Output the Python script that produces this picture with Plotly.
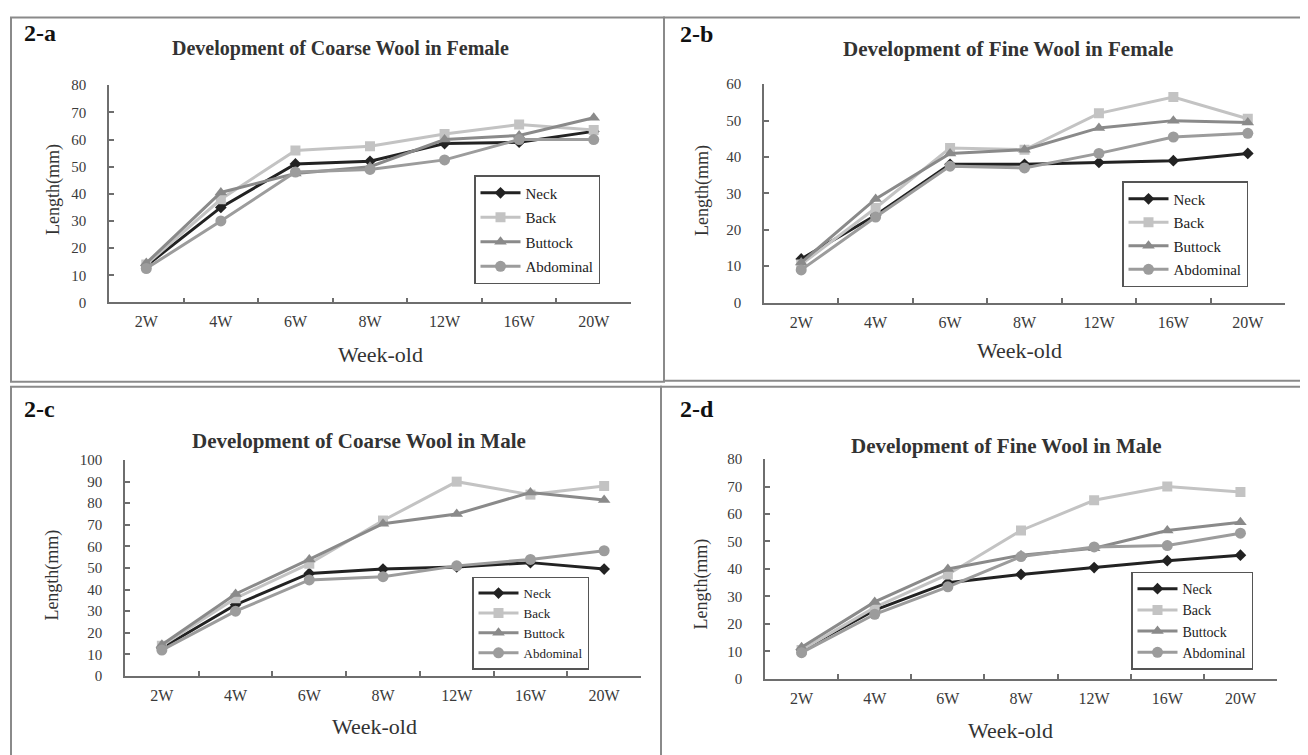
import plotly.graph_objects as go

weeks = ["2W", "4W", "6W", "8W", "12W", "16W", "20W"]
series_names = ["Neck", "Back", "Buttock", "Abdominal"]

# 2-a Coarse wool, female
a_neck = [13.5, 35, 51, 52, 58.5, 59, 63]
a_back = [14, 38, 56, 57.5, 62, 65.5, 63.5]
a_buttock = [14.5, 40.5, 47.5, 50, 60, 61.5, 68]
a_abdominal = [12.5, 30, 48, 49, 52.5, 60, 60]

# 2-b Fine wool, female
b_neck = [12, 24, 38, 38, 38.5, 39, 41]
b_back = [10.5, 26, 42.5, 42, 52, 56.5, 50.5]
b_buttock = [11, 28.5, 41, 42, 48, 50, 49.5]
b_abdominal = [9, 23.5, 37.5, 37, 41, 45.5, 46.5]

# 2-c Coarse wool, male
c_neck = [13, 33, 47.5, 49.5, 50.5, 52.5, 49.5]
c_back = [14, 36, 52, 72, 90, 84, 88]
c_buttock = [14.5, 38, 54, 70.5, 75, 85, 81.5]
c_abdominal = [12, 30, 44.5, 46, 51, 54, 58]

# 2-d Fine wool, male
d_neck = [10.5, 25, 35, 38, 40.5, 43, 45]
d_back = [10.5, 26, 38, 54, 65, 70, 68]
d_buttock = [11.5, 28, 40, 45, 47.5, 54, 57]
d_abdominal = [9.5, 23.5, 33.5, 44.5, 48, 48.5, 53]

panel_labels = ["2-a", "2-b", "2-c", "2-d"]
panel_titles = ["Development of Coarse Wool in Female", "Development of Fine Wool in Female",
                "Development of Coarse Wool in Male", "Development of Fine Wool in Male"]
y_max = [80, 60, 100, 80]

W, H = 1308, 755
SERIF = "Liberation Serif, Times New Roman, serif"

styles = [
    dict(color="#222222", symbol="diamond", size=9),
    dict(color="#c3c3c3", symbol="square", size=10),
    dict(color="#8a8a8a", symbol="triangle-up", size=11),
    dict(color="#9c9c9c", symbol="circle", size=11),
]

# target pixel positions in the photographed page
boxes = [(109, 631, 84, 301.5), (764, 1285, 83, 301.7), (125, 641, 459.3, 675.5), (765, 1277, 458.3, 678.3)]
legend_pos = [(474, 174, 2, 15), (1122, 180, 1, 15), (472, 576, 0, 13), (1131, 571, 0, 14)]
label_pos = [(22, 32), (678, 33), (22, 408), (678, 408)]
title_pos = [(341, 47), (1008, 48), (359, 440), (1006, 445)]
title_size = [20, 21, 21, 21]
xtitle_pos = [(380, 354), (1020, 350), (374, 726), (1010, 730)]
ytitle_pos = [(53, 189), (702, 190), (53, 575), (702, 584)]

data = [
    [a_neck, a_back, a_buttock, a_abdominal],
    [b_neck, b_back, b_buttock, b_abdominal],
    [c_neck, c_back, c_buttock, c_abdominal],
    [d_neck, d_back, d_buttock, d_abdominal],
]

fig = go.Figure()
layout = dict(width=W, height=H, margin=dict(l=0, r=0, t=0, b=0),
              font=dict(family=SERIF, color="#333333"),
              paper_bgcolor="white", plot_bgcolor="white", showlegend=True)

# compensation for page offset / scaling observed in the photograph
OX, OY, SY = 8.0, 14.7, 0.98

def px(x):
    return (x - OX) / W

def py(y):
    return 1 - ((y - OY) / SY) / H

annotations = []
for i in range(4):
    sfx = "" if i == 0 else str(i + 1)
    lg = "legend" if i == 0 else "legend" + str(i + 1)
    for j, name in enumerate(series_names):
        st = styles[j]
        fig.add_trace(go.Scatter(
            x=weeks, y=data[i][j], name=name, mode="lines+markers",
            line=dict(color=st["color"], width=3),
            marker=dict(color=st["color"], symbol=st["symbol"], size=st["size"]),
            xaxis="x" + sfx, yaxis="y" + sfx, legend=lg, legendgroup=f"g{i}{j}",
        ))
    x0, x1, yt, yb = boxes[i]
    layout["xaxis" + sfx] = dict(
        domain=[px(x0), px(x1)], anchor="y" + sfx, type="category", range=[-0.5, 6.5],
        showline=True, linecolor="#6e6e6e", linewidth=1.5, showgrid=False, zeroline=False,
        ticks="inside", tickson="boundaries", ticklen=5, tickcolor="#6e6e6e", tickwidth=1.5,
        tickfont=dict(family=SERIF, size=16, color="#3a3a3a"), ticklabelstandoff=4,
    )
    layout["yaxis" + sfx] = dict(
        domain=[py(yb), py(yt)], anchor="x" + sfx, range=[0, y_max[i]], dtick=10,
        showline=True, linecolor="#6e6e6e", linewidth=1.5, showgrid=False, zeroline=False,
        ticks="inside", ticklen=5, tickcolor="#6e6e6e", tickwidth=1.5,
        tickfont=dict(family=SERIF, size=15, color="#3a3a3a"), ticklabelstandoff=18,
    )
    lx, ly, gap, fsz = legend_pos[i]
    layout[lg] = dict(x=px(lx), y=py(ly), xanchor="left", yanchor="top",
                      bordercolor="#555555", borderwidth=1.5, bgcolor="white",
                      font=dict(family=SERIF, size=fsz, color="#222222"),
                      itemwidth=40, tracegroupgap=gap, traceorder="grouped")
    annotations.append(dict(x=px(label_pos[i][0]), y=py(label_pos[i][1]), xref="paper", yref="paper",
                            xanchor="left", yanchor="middle", showarrow=False, text="<b>%s</b>" % panel_labels[i],
                            font=dict(family=SERIF, size=24, color="#111111")))
    annotations.append(dict(x=px(title_pos[i][0]), y=py(title_pos[i][1]), xref="paper", yref="paper",
                            xanchor="center", yanchor="middle", showarrow=False, text="<b>%s</b>" % panel_titles[i],
                            font=dict(family=SERIF, size=title_size[i], color="#333333")))
    annotations.append(dict(x=px(xtitle_pos[i][0]), y=py(xtitle_pos[i][1]), xref="paper", yref="paper",
                            xanchor="center", yanchor="middle", showarrow=False, text="Week-old",
                            font=dict(family=SERIF, size=22, color="#333333")))
    annotations.append(dict(x=px(ytitle_pos[i][0]), y=py(ytitle_pos[i][1]), xref="paper", yref="paper",
                            xanchor="center", yanchor="middle", showarrow=False, text="Length(mm)", textangle=-90,
                            font=dict(family=SERIF, size=18, color="#333333")))

border = dict(color="#8a8a8a", width=2)
top = 0.998
shapes = [
    dict(type="rect", xref="paper", yref="paper", x0=px(11), x1=px(664), y0=py(381), y1=top, line=border),
    dict(type="rect", xref="paper", yref="paper", x0=px(664), x1=px(1307), y0=py(380), y1=top, line=border),
    dict(type="rect", xref="paper", yref="paper", x0=px(11), x1=px(661), y0=-0.05, y1=py(386), line=border),
    dict(type="rect", xref="paper", yref="paper", x0=px(661), x1=px(1307), y0=-0.05, y1=py(386), line=border),
]
layout["annotations"] = annotations
layout["shapes"] = shapes
fig.update_layout(**layout)
fig.write_html("out.html")
